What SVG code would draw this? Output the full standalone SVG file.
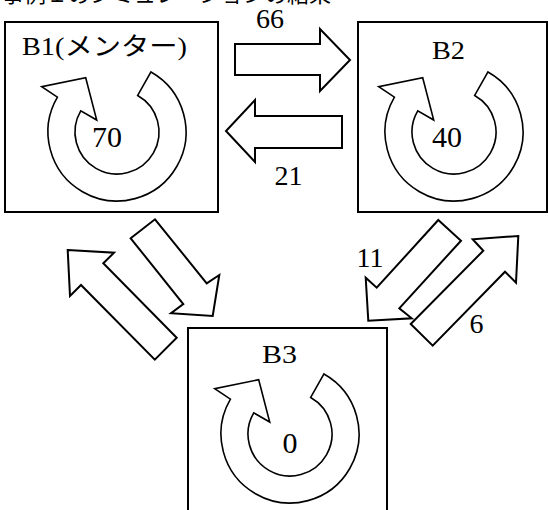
<svg xmlns="http://www.w3.org/2000/svg" xmlns:xlink="http://www.w3.org/1999/xlink" width="548" height="510" viewBox="0 0 548 510">
  <style>
    .box { fill: #fff; stroke: #000; stroke-width: 2; }
    .ring { fill: #fff; stroke: #000; stroke-width: 1.6; stroke-linejoin: miter; }
    .arrow { fill: #fff; stroke: #000; stroke-width: 2; stroke-linejoin: miter; }
    .txt { fill: #000; }
    .name { font-size: 25px; }
    .count { font-size: 30px; text-anchor: middle; }
    .flow { font-size: 28px; text-anchor: middle; }
    .title { font-size: 22px; }
  </style>
  <defs>
    <!-- circular self-loop arrow, centred on (0,0) -->
    <path id="loop" class="ring" d="M33.98,-60.06 A69,69 0 1 1 -59.57,-34.82 L-75.3,-45.3 L-31.3,-54.3 L-20.3,-12 L-36.26,-21.19 A42,42 0 1 0 20.68,-36.56 Z"/>
  </defs>

  <rect width="548" height="510" fill="#fff"/>

  <!-- heading, clipped by the top edge -->
  <text class="txt title" font-family="'Noto Sans CJK JP', sans-serif" x="2" y="1.5">事例１のシミュレーションの結果</text>

  <g id="node-b1" font-family="'Liberation Serif', 'Noto Sans CJK JP', serif">
    <rect class="box" x="5" y="22" width="213" height="190"/>
    <text class="txt name" x="22" y="55" textLength="165" lengthAdjust="spacingAndGlyphs">B1(メンター)</text>
    <use xlink:href="#loop" transform="translate(117,132)"/>
    <text class="txt count" x="107" y="147">70</text>
  </g>

  <g id="node-b2" font-family="'Liberation Serif', serif">
    <rect class="box" x="358" y="22" width="189" height="190"/>
    <text class="txt name" x="432" y="59" textLength="33" lengthAdjust="spacingAndGlyphs">B2</text>
    <use xlink:href="#loop" transform="translate(454,132)"/>
    <text class="txt count" x="447" y="147">40</text>
  </g>

  <g id="node-b3" font-family="'Liberation Serif', serif">
    <rect class="box" x="188" y="328" width="199" height="200"/>
    <text class="txt name" x="262" y="363" textLength="35" lengthAdjust="spacingAndGlyphs">B3</text>
    <use xlink:href="#loop" transform="translate(290,434)"/>
    <text class="txt count" x="290" y="453">0</text>
  </g>

  <g id="connectors" font-family="'Liberation Serif', serif">
    <!-- B1 to B2 -->
    <polygon class="arrow" points="235,44 320,44 320,29 350,60 320,91 320,75 235,75"/>
    <text class="txt flow" x="270" y="28">66</text>
    <!-- B2 to B1 -->
    <polygon class="arrow" points="342,116 255,116 255,100 226,131 255,162 255,148 342,148"/>
    <text class="txt flow" x="288.5" y="185">21</text>
    <!-- B1 to B3 -->
    <polygon class="arrow" points="130.7,238.3 155,219.3 206.7,283.3 219.3,275 212.7,316 171,313.3 183.3,304"/>
    <!-- B3 to B1 -->
    <polygon class="arrow" points="67.7,250 114,252.7 103.3,263.3 176.7,337.7 154.8,359.6 81,285 70,296"/>
    <!-- B2 to B3 -->
    <polygon class="arrow" points="438.3,220 461,240.7 399.3,308.3 411.7,318.3 368.3,320.7 365.7,277.7 376.7,287.7"/>
    <text class="txt flow" x="370" y="267">11</text>
    <!-- B3 to B2 -->
    <polygon class="arrow" points="518.3,236 516,282.7 505,271.7 432.7,345.7 410.7,324 483.3,250.7 472.7,239.3"/>
    <text class="txt flow" x="476.5" y="333">6</text>
  </g>
</svg>
